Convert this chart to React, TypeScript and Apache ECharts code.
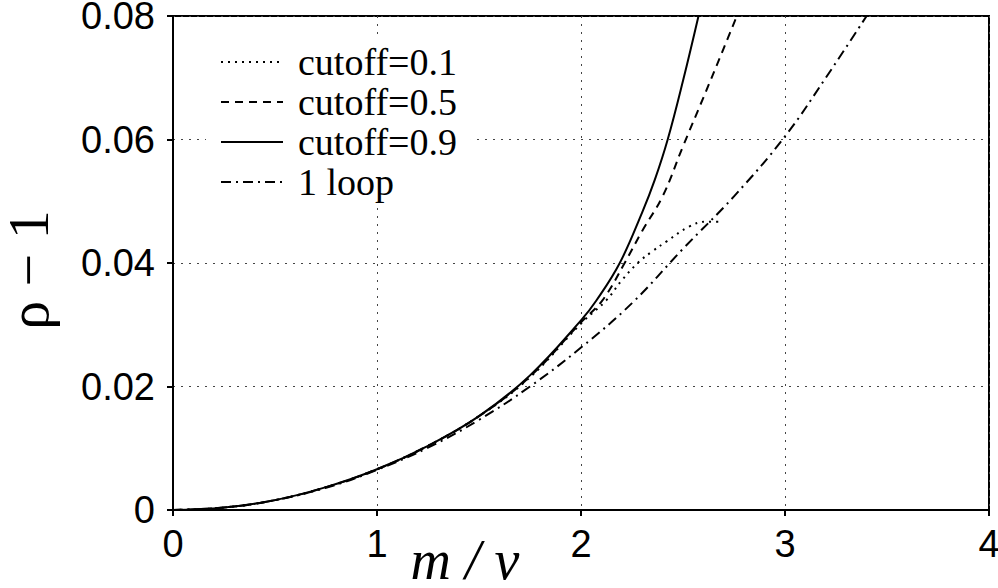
import React, { useEffect, useRef } from "react";
import * as echarts from "echarts";

const legendNames = ["cutoff=0.1", "cutoff=0.5", "cutoff=0.9", "1 loop"];

const xCut01 = [0, 0.25, 0.5, 0.75, 1, 1.25, 1.5, 1.75, 2, 2.125, 2.2, 2.278, 2.35, 2.42, 2.53, 2.613, 2.687];
const yCut01 = [0, 0.0004, 0.0016, 0.0037, 0.0066, 0.0104, 0.0152, 0.0215, 0.0302, 0.034, 0.0372, 0.04, 0.0419, 0.0435, 0.0459, 0.0467, 0.0467];

const xCut05 = [0, 0.25, 0.5, 0.75, 1, 1.25, 1.5, 1.75, 2, 2.106, 2.214, 2.3, 2.4, 2.5, 2.6, 2.7, 2.764];
const yCut05 = [0, 0.0004, 0.0016, 0.0037, 0.0066, 0.0104, 0.0152, 0.0216, 0.0304, 0.034, 0.04, 0.0452, 0.0508, 0.0589, 0.0668, 0.0748, 0.08];

const xCut09 = [0, 0.25, 0.5, 0.75, 1, 1.25, 1.5, 1.75, 2, 2.077, 2.19, 2.3, 2.362, 2.425, 2.5, 2.576];
const yCut09 = [0, 0.0004, 0.0016, 0.0037, 0.0066, 0.0104, 0.0152, 0.0218, 0.0307, 0.034, 0.04, 0.0482, 0.0535, 0.06, 0.0695, 0.08];

const xLoop = [0, 0.25, 0.5, 0.75, 1, 1.25, 1.5, 1.75, 2, 2.25, 2.5, 2.75, 3, 3.2, 3.4];
const yLoop = [0, 0.0004, 0.0016, 0.0036, 0.0065, 0.0101, 0.0146, 0.02, 0.0263, 0.0335, 0.0423, 0.0508, 0.0605, 0.07, 0.08];

const xTicks = [0, 1, 2, 3, 4];
const yTickLabels = ["0", "0.02", "0.04", "0.06", "0.08"];

const zip = (xs: number[], ys: number[]) => xs.map((x, i) => [x, ys[i]]);

export default function App() {
  const ref = useRef<HTMLDivElement>(null);
  useEffect(() => {
    if (!ref.current) return;
    const chart = echarts.init(ref.current, undefined, { renderer: "svg" });
    const lineBase = (name: string, data: number[][], type: any) => ({
      name,
      type: "line",
      data,
      symbol: "none",
      smooth: 0.4,
      clip: true,
      lineStyle: { color: "#000", width: 2, type },
      itemStyle: { color: "#000" },
      emphasis: { disabled: true },
    });
    chart.setOption({
      animation: false,
      backgroundColor: "#fff",
      grid: {
        left: 173,
        right: 9,
        top: 16,
        bottom: 78,
        show: true,
        borderColor: "#000",
        borderWidth: 2,
        containLabel: false,
        outerBoundsMode: "none",
      },
      xAxis: {
        type: "value",
        min: xTicks[0],
        max: xTicks[xTicks.length - 1],
        interval: 1,
        axisLine: { lineStyle: { color: "#000", width: 2 } },
        axisTick: { length: 6, lineStyle: { color: "#000", width: 2 } },
        axisLabel: { color: "#000", fontFamily: "Liberation Sans", fontSize: 38, margin: 15 },
        splitLine: { lineStyle: { type: [2, 6], color: "#444", width: 1 } },
        name: "m / v",
        nameLocation: "middle",
        nameGap: 22,
        nameMoveOverlap: false,
        nameTextStyle: {
          fontFamily: "Liberation Serif",
          fontStyle: "italic",
          fontSize: 56,
          color: "#000",
          padding: [0, 232, 0, 0],
        },
      },
      yAxis: {
        type: "value",
        min: 0,
        max: 0.08,
        interval: 0.02,
        axisLine: { lineStyle: { color: "#000", width: 2 } },
        axisTick: { length: 6, lineStyle: { color: "#000", width: 2 } },
        axisLabel: {
          color: "#000",
          fontFamily: "Liberation Sans",
          fontSize: 38,
          margin: 18,
          formatter: (v: number) => yTickLabels[Math.round(v / 0.02)],
        },
        splitLine: { lineStyle: { type: [2, 6], color: "#444", width: 1 } },
        name: "ρ − 1",
        nameLocation: "middle",
        nameGap: 116,
        nameMoveOverlap: false,
        nameTextStyle: { fontFamily: "Liberation Serif", fontSize: 58, color: "#000", padding: [0, 14, 0, 0] },
      },
      legend: {
        orient: "vertical",
        left: 206,
        top: 38,
        padding: [4, 14, 4, 14],
        backgroundColor: "#fff",
        itemWidth: 62,
        itemHeight: 14,
        itemGap: 0,
        selectedMode: false,
        itemStyle: { opacity: 0 },
        textStyle: { fontFamily: "Liberation Serif", fontSize: 38, color: "#000", lineHeight: 40, padding: [0, 0, 0, 10] },
        data: legendNames,
      },
      series: [
        lineBase(legendNames[0], zip(xCut01, yCut01), [2, 5]),
        lineBase(legendNames[1], zip(xCut05, yCut05), [8, 6]),
        lineBase(legendNames[2], zip(xCut09, yCut09), "solid"),
        lineBase(legendNames[3], zip(xLoop, yLoop), [10, 5, 2, 5]),
      ],
    });
    return () => chart.dispose();
  }, []);
  return <div ref={ref} style={{ width: 998, height: 588, position: "absolute", left: 0, top: 0 }} />;
}
